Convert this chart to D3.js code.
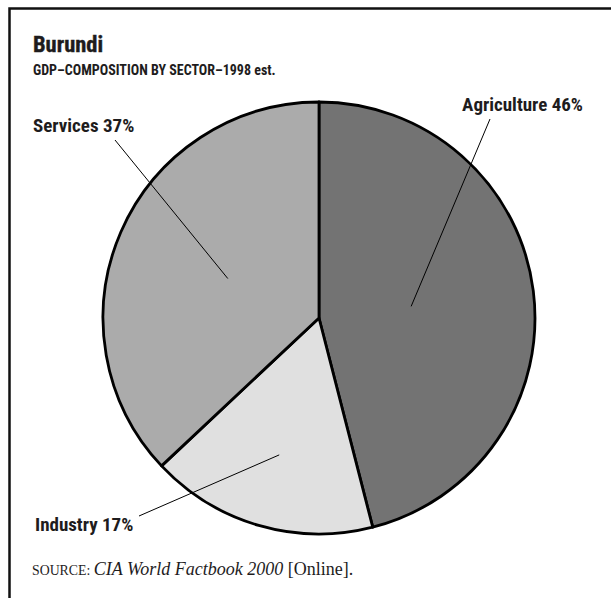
<!DOCTYPE html>
<html>
<head>
<meta charset="utf-8">
<script src="https://cdn.jsdelivr.net/npm/d3@7"></script>
<style>
    body { margin: 0; background: #fff; }
    .cond { font-family: "Liberation Sans Narrow", "Arial Narrow", "Roboto Condensed", sans-serif; font-weight: bold; font-stretch: condensed; fill: #1e1c1d; }
    .src { font-family: "Liberation Serif", "Times New Roman", serif; fill: #1e1c1d; }
</style>
</head>
<body>
<div id="chart"></div>
<script>

var sectors = ["Agriculture", "Industry", "Services"],
    shares = [46, 17, 37],
    fills = ["#737373", "#e0e0e0", "#ababab"];

var title = "Burundi",
    subtitle = "GDP\u2013COMPOSITION BY SECTOR\u20131998 est.";

window.onload = function() {

    var width = 611,
        height = 598,
        cx = 319,
        cy = 318,
        radius = 216;

    // where each label sits and how far in its leader line reaches
    var label_layout = {
        "Agriculture": {x: 583, y: 111, anchor: "end", lx: 490, ly: 119, inner: 0.43},
        "Industry": {x: 35, y: 531, anchor: "start", lx: 139, ly: 516, inner: 0.66},
        "Services": {x: 33, y: 132, anchor: "start", lx: 115, ly: 140, inner: 0.46}
    };

    var svg = d3.select("#chart").append("svg")
        .attr("width", width)
        .attr("height", height);

    // frame: top and left rule only
    svg.append("path")
        .attr("d", "M9.5," + height + "V8.5H" + width)
        .attr("fill", "none")
        .attr("stroke", "#111")
        .attr("stroke-width", 2.5);

    svg.append("text")
        .attr("class", "cond")
        .attr("x", 33)
        .attr("y", 52)
        .style("font-size", "22.5px")
        .style("stroke", "#1e1c1d")
        .style("stroke-width", 0.4)
        .text(title);

    svg.append("text")
        .attr("class", "cond")
        .attr("x", 33)
        .attr("y", 75)
        .style("font-size", "14px")
        .text(subtitle);

    var pie = d3.pie()
        .sort(null)
        .value(function(d) { return d; });

    var arcs = pie(shares);

    var arc = d3.arc()
        .innerRadius(0)
        .outerRadius(radius);

    var g = svg.append("g")
        .attr("transform", "translate(" + cx + "," + cy + ")");

    g.selectAll("path")
        .data(arcs)
        .enter().append("path")
        .attr("d", arc)
        .attr("fill", function(d, i) { return fills[i]; })
        .attr("stroke", "#000")
        .attr("stroke-width", 2.8)
        .attr("stroke-linejoin", "round");

    // leader lines from the labels into each slice
    g.selectAll("line")
        .data(arcs)
        .enter().append("line")
        .attr("x1", function(d, i) { return label_layout[sectors[i]].lx - cx; })
        .attr("y1", function(d, i) { return label_layout[sectors[i]].ly - cy; })
        .attr("x2", function(d, i) {
            var r = radius * label_layout[sectors[i]].inner;
            return d3.arc().innerRadius(r).outerRadius(r).centroid(d)[0];
        })
        .attr("y2", function(d, i) {
            var r = radius * label_layout[sectors[i]].inner;
            return d3.arc().innerRadius(r).outerRadius(r).centroid(d)[1];
        })
        .attr("stroke", "#000")
        .attr("stroke-width", 1);

    svg.selectAll(".lbl")
        .data(sectors)
        .enter().append("text")
        .attr("class", "cond lbl")
        .attr("x", function(d) { return label_layout[d].x; })
        .attr("y", function(d) { return label_layout[d].y; })
        .attr("text-anchor", function(d) { return label_layout[d].anchor; })
        .style("font-size", "19px")
        .text(function(d, i) { return d + " " + shares[i] + "%"; });

    var source = svg.append("text")
        .attr("class", "src")
        .attr("x", 32)
        .attr("y", 575)
        .style("font-size", "18px");

    source.append("tspan").style("font-size", "13.8px").text("SOURCE: ");
    source.append("tspan").style("font-style", "italic").text("CIA World Factbook 2000");
    source.append("tspan").text(" [Online].");
};
</script>
</body>
</html>
